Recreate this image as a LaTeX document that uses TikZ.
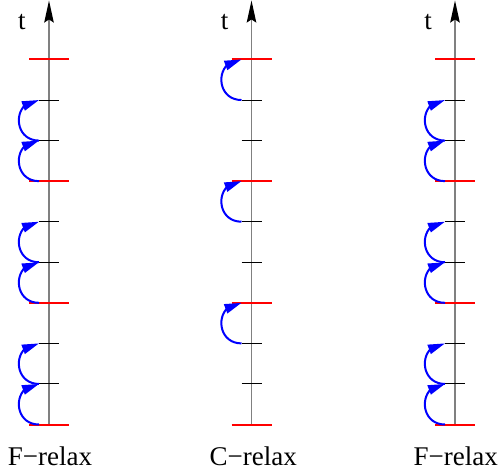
\documentclass[tikz,border=0pt]{standalone}
\usepackage{fontspec}
\setmainfont{Liberation Serif}
\usetikzlibrary{arrows.meta,bending}
\begin{document}
\begin{tikzpicture}[x=1pt,y=-1pt,
  axisline/.style={draw=black!50,line width=1.4pt,-{Stealth[length=22pt,width=9.5pt,inset=3pt,black]}},
  redtick/.style={draw=red,line width=2pt},
  blacktick/.style={draw=black,line width=0.9pt},
  relaxarc/.style={draw=blue,line width=2pt,-{Triangle[length=17pt,width=9.5pt,flex]},out=180,in=180,looseness=1.7},
  lbl/.style={font=\fontsize{27}{30}\selectfont,inner sep=0pt,anchor=base}]
\useasboundingbox (0,0) rectangle (498,474);
\foreach \ax/\xx in {A/49,B/251.5,C/455}{
  \coordinate (\ax-top) at (\xx,0.5);
  \foreach \k in {0,...,9}{
    \coordinate (\ax-\k) at (\xx,424.5-40.56*\k);
    \coordinate (\ax-\k-l) at (\xx-10,424.5-40.56*\k);
  }
}
\foreach \ax in {A,B,C}{
  \draw[axisline] (\ax-0) -- (\ax-top);
  \foreach \k in {1,2,4,5,7,8} \draw[blacktick] ([xshift=-10pt]\ax-\k) -- ([xshift=10pt]\ax-\k);
  \foreach \k in {0,3,6,9} \draw[redtick] ([xshift=-20pt]\ax-\k) -- ([xshift=20pt]\ax-\k);
}
\foreach \ax in {A,C}{
  \foreach \k/\n in {0/1,1/2,3/4,4/5,6/7,7/8} \draw[relaxarc] (\ax-\k-l) to (\ax-\n-l);
}
\foreach \k/\n in {2/3,5/6,8/9} \draw[relaxarc] (B-\k-l) to (B-\n-l);
\node[lbl] (tA) at (22,29) {t};
\node[lbl] (tB) at (224.5,29) {t};
\node[lbl] (tC) at (428,29) {t};
\node[lbl] (labA) at (50,465.7) {F−relax};
\node[lbl] (labB) at (253.3,465.7) {C−relax};
\node[lbl] (labC) at (455.8,465.7) {F−relax};
\end{tikzpicture}
\end{document}
